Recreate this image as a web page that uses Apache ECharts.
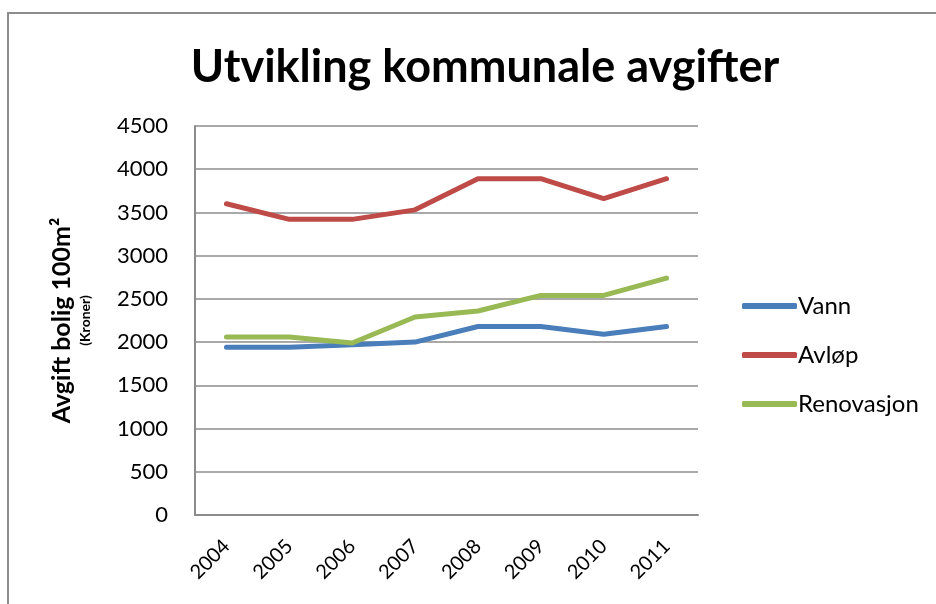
<!DOCTYPE html>
<html>
<head>
<meta charset="utf-8">
<script src="https://cdn.jsdelivr.net/npm/echarts@6/dist/echarts.min.js"></script>
<style>
  html, body { margin: 0; padding: 0; background: #fff; }
  #chart { width: 936px; height: 604px; }
</style>
</head>
<body>
<div id="chart"></div>
<script>
// chart data
const years = ['2004', '2005', '2006', '2007', '2008', '2009', '2010', '2011']
const vann = [1940, 1940, 1970, 2000, 2180, 2180, 2090, 2180]
const avlop = [3600, 3420, 3420, 3530, 3890, 3890, 3660, 3890]
const renovasjon = [2060, 2060, 1990, 2290, 2360, 2540, 2540, 2740]
const seriesNames = ['Vann', 'Avløp', 'Renovasjon']
const colors = ['#4a7ebb', '#be4b48', '#98b954']

const font = 'Lato, "Open Sans", sans-serif'
const chart = echarts.init(document.getElementById('chart'))

const lineSeries = [vann, avlop, renovasjon].map((data, i) => {
  return {
    type: 'line',
    name: seriesNames[i],
    data: data,
    symbol: 'none',
    lineStyle: { width: 5, cap: 'round', join: 'round', color: colors[i] },
    itemStyle: { color: colors[i] }
  }
})

chart.setOption({
  color: colors,
  animation: false,
  title: {
    text: 'Utvikling kommunale avgifter',
    left: 480,
    textAlign: 'center',
    top: 40,
    textStyle: { fontFamily: font, fontSize: 45, fontWeight: 'bold', color: '#000' }
  },
  graphic: [{
    type: 'polyline',
    shape: { points: [[8, 620], [8, 13], [950, 13]] },
    style: { stroke: '#8c8c8c', lineWidth: 2, fill: null },
    silent: true
  }],
  grid: { left: 195, right: 238, top: 126, bottom: 89 },
  legend: {
    orient: 'vertical',
    left: 737,
    top: 287,
    itemWidth: 55,
    itemHeight: 6,
    itemGap: 21,
    icon: 'roundRect',
    textStyle: { fontFamily: font, fontSize: 24, color: '#000', lineHeight: 28, padding: [0, 0, 0, -4] },
    data: seriesNames
  },
  xAxis: {
    type: 'category',
    data: years,
    boundaryGap: true,
    axisLine: { lineStyle: { color: '#8c8c8c', width: 2 } },
    axisTick: { show: false },
    axisLabel: { rotate: 45, margin: 28, fontFamily: font, fontSize: 20, color: '#000', interval: 0 }
  },
  yAxis: {
    type: 'value',
    min: 0,
    max: 4500,
    interval: 500,
    name: '{a|Avgift bolig 100m²}\n{b|(Kroner)}',
    nameLocation: 'middle',
    nameRotate: 90,
    nameGap: 101,
    nameTextStyle: {
      align: 'center',
      rich: {
        a: { fontFamily: font, fontSize: 25, fontWeight: 'bold', color: '#000', lineHeight: 28 },
        b: { fontFamily: font, fontSize: 14, fontWeight: 'bold', color: '#000', lineHeight: 18 }
      }
    },
    axisLine: { show: true, lineStyle: { color: '#8c8c8c', width: 2 } },
    axisTick: { show: false },
    axisLabel: {
      margin: 27,
      fontFamily: font,
      fontSize: 22,
      color: '#000',
      formatter: v => String(v)
    },
    splitLine: { lineStyle: { color: '#8c8c8c', width: 1.5 } }
  },
  series: lineSeries
})
</script>
</body>
</html>
